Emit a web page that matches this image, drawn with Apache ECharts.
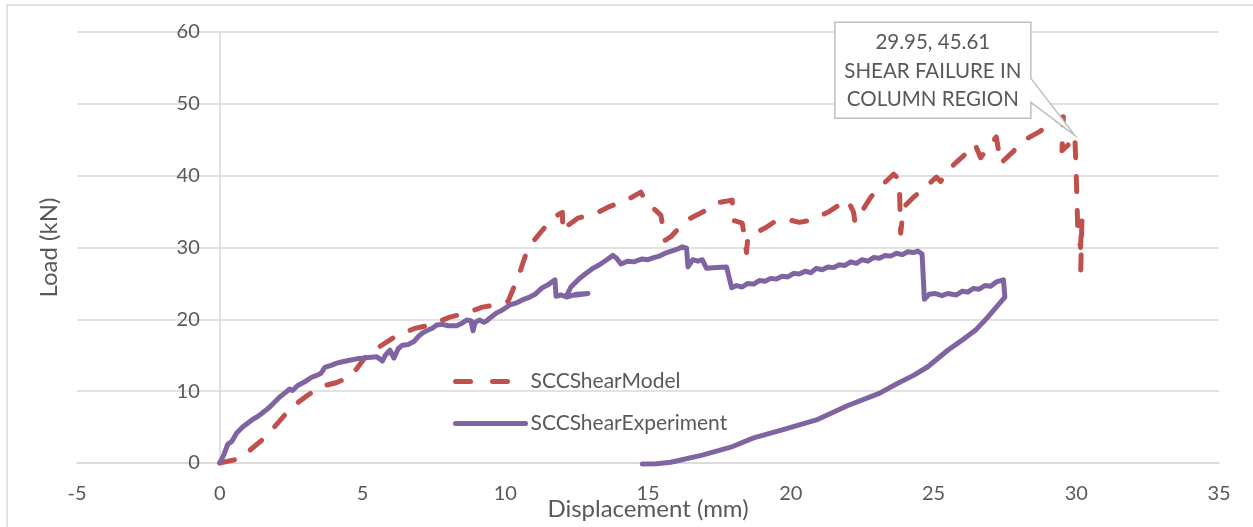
<!DOCTYPE html>
<html>
<head>
<meta charset="utf-8">
<script src="https://cdn.jsdelivr.net/npm/echarts@6/dist/echarts.min.js"></script>
<style>
  html, body { margin: 0; padding: 0; background: #fff; }
  #chart { width: 1253px; height: 527px; }
</style>
</head>
<body>
<div id="chart"></div>
<script>
// displacement (mm), load (kN)
const modelPoints = [
  [0, 0], [0.7, 0.6], [1.6, 3.6], [2.5, 7.7], [3.0, 9.2], [3.5, 10.6], [4.1, 11.2], [4.6, 12.1],
  [5.15, 15.0], [5.6, 16.2], [6.1, 17.5], [6.8, 18.7], [7.35, 19.2], [8.06, 20.3], [8.65, 20.9],
  [9.2, 21.7], [9.8, 22.1], [10.1, 22.5], [10.5, 26.4], [10.75, 29.4], [10.97, 30.8], [11.3, 32.4],
  [11.7, 34.2], [12.0, 34.9], [12.02, 32.2], [12.2, 33.1], [12.55, 34.1], [13.2, 34.8], [13.65, 35.7],
  [14.3, 36.7], [14.75, 37.7], [14.95, 36.2], [15.2, 35.4], [15.45, 34.5], [15.6, 31.0], [15.8, 31.5],
  [16.35, 33.8], [16.9, 34.9], [17.4, 36.2], [17.95, 36.6], [17.97, 33.8], [18.3, 33.4], [18.4, 31.0],
  [18.45, 29.3], [18.5, 31.5], [19.1, 32.7], [19.4, 33.5], [19.9, 33.9], [20.3, 33.5], [20.7, 33.8],
  [21.3, 34.9], [21.8, 36.2], [22.0, 36.6], [22.2, 34.9], [22.25, 33.5], [22.8, 37.0], [23.2, 38.7],
  [23.6, 40.2], [23.8, 39.5], [23.85, 32.0], [23.95, 35.6], [24.3, 37.0], [24.6, 38.0], [25.1, 39.8],
  [25.25, 39.2], [25.7, 41.5], [26.2, 43.3], [26.45, 44.4], [26.65, 42.5], [27.2, 45.4], [27.35, 41.7],
  [27.75, 43.2], [28.2, 45.0], [28.7, 46.1], [29.25, 47.5], [29.55, 48.2], [29.5, 43.5], [29.7, 44.2],
  [29.95, 45.61], [30.0, 40.0], [30.05, 33.0], [30.15, 30.0], [30.2, 34.0], [30.15, 25.5]
];

const experimentPoints = [
  [0, 0], [0.15, 1.2], [0.28, 2.6], [0.35, 2.4], [0.42, 3.0], [0.6, 4.2], [0.8, 5.0], [1.0, 5.6],
  [1.16, 6.1], [1.3, 6.4], [1.47, 6.9], [1.6, 7.3], [1.75, 7.8], [1.9, 8.4], [2.1, 9.2], [2.3, 9.8],
  [2.45, 10.3], [2.55, 10.1], [2.73, 10.8], [2.98, 11.3], [3.2, 11.9], [3.4, 12.2], [3.55, 12.5],
  [3.68, 13.3], [3.9, 13.6], [4.1, 13.9], [4.3, 14.1], [4.55, 14.3], [4.8, 14.5], [5.0, 14.6],
  [5.2, 14.7], [5.5, 14.8], [5.7, 14.2], [5.8, 15.0], [5.96, 15.7], [6.1, 14.6], [6.25, 15.9],
  [6.4, 16.4], [6.6, 16.5], [6.8, 16.9], [6.95, 17.6], [7.1, 18.1], [7.3, 18.5], [7.46, 18.8],
  [7.6, 19.2], [7.8, 19.3], [8.0, 19.1], [8.3, 19.1], [8.5, 19.5], [8.65, 19.9], [8.8, 19.8],
  [8.87, 18.4], [8.95, 19.6], [9.1, 19.9], [9.25, 19.6], [9.35, 19.8], [9.5, 20.3], [9.7, 20.9],
  [9.9, 21.3], [10.16, 22.0], [10.4, 22.3], [10.6, 22.7], [10.86, 23.1], [11.05, 23.5], [11.3, 24.4],
  [11.5, 24.8], [11.74, 25.5], [11.78, 23.2], [11.95, 23.4], [12.16, 23.1], [12.5, 23.5], [12.9, 23.6],
  [12.5, 23.4], [12.15, 23.3], [12.3, 24.5], [12.45, 25.1], [12.6, 25.7], [12.8, 26.3], [13.07, 27.1],
  [13.3, 27.6], [13.56, 28.3], [13.77, 28.9], [13.9, 28.5], [14.05, 27.7], [14.3, 28.1], [14.5, 28.0],
  [14.8, 28.4], [15.0, 28.3], [15.2, 28.6], [15.4, 28.8], [15.66, 29.3], [15.9, 29.6], [16.05, 29.8],
  [16.2, 30.1], [16.35, 29.9], [16.4, 27.3], [16.57, 28.3], [16.75, 28.1], [16.9, 28.3], [17.05, 27.1],
  [17.4, 27.2], [17.75, 27.3], [17.93, 24.4], [18.1, 24.7], [18.3, 24.5], [18.5, 25.0], [18.7, 24.9],
  [18.9, 25.4], [19.1, 25.3], [19.3, 25.7], [19.5, 25.6], [19.7, 26.0], [19.9, 25.9], [20.1, 26.4],
  [20.3, 26.3], [20.5, 26.7], [20.7, 26.5], [20.9, 27.1], [21.1, 26.9], [21.3, 27.3], [21.5, 27.2],
  [21.7, 27.6], [21.9, 27.5], [22.1, 28.0], [22.3, 27.8], [22.5, 28.3], [22.7, 28.1], [22.9, 28.6],
  [23.1, 28.5], [23.3, 28.9], [23.5, 28.8], [23.7, 29.2], [23.9, 29.0], [24.1, 29.4], [24.3, 29.3],
  [24.45, 29.5], [24.6, 29.1], [24.68, 22.8], [24.85, 23.5], [25.05, 23.6], [25.3, 23.3], [25.5, 23.6],
  [25.8, 23.4], [26.0, 23.9], [26.2, 23.8], [26.4, 24.3], [26.6, 24.2], [26.8, 24.7], [27.0, 24.6],
  [27.2, 25.2], [27.45, 25.5], [27.5, 23.1], [27.2, 21.7], [26.9, 20.3], [26.5, 18.6], [26.0, 17.1],
  [25.5, 15.7], [24.8, 13.4], [24.3, 12.2], [23.7, 11.0], [23.1, 9.7], [22.0, 8.0], [20.9, 6.0],
  [19.7, 4.6], [18.7, 3.5], [17.9, 2.2], [16.9, 1.1], [15.8, 0.1], [15.3, -0.1], [14.8, -0.15]
];

const seriesNames = ['SCCShearModel', 'SCCShearExperiment'];
const failurePoint = [29.95, 45.61];
const failureNote = ['29.95, 45.61', 'SHEAR FAILURE IN', 'COLUMN REGION'];

const FONT = 'Lato, "Open Sans", sans-serif';
const TEXT = '#595959';
const GRID = '#d9d9d9';
const RED = '#c0504d';
const PURPLE = '#8064a2';
const DASH = [15, 19];

const chart = echarts.init(document.getElementById('chart'));

chart.setOption({
  backgroundColor: '#fff',
  animation: false,
  grid: { left: 77, right: 34, top: 32, bottom: 64, outerBoundsMode: 'none', containLabel: false },
  legend: {
    orient: 'vertical',
    left: 448,
    top: 366,
    itemWidth: 70,
    itemHeight: 20,
    itemGap: 21,
    itemStyle: { color: 'transparent', borderWidth: 0, opacity: 0 },
    textStyle: { color: TEXT, fontSize: 21, fontFamily: FONT },
    data: [
      { name: seriesNames[0], lineStyle: { color: RED, width: 5, type: [15, 22], cap: 'round' } },
      { name: seriesNames[1], lineStyle: { color: PURPLE, width: 5, type: 'solid', cap: 'round' } }
    ]
  },
  xAxis: {
    type: 'value',
    min: -5,
    max: 35,
    interval: 5,
    name: 'Displacement (mm)',
    nameLocation: 'middle',
    nameGap: 34,
    nameMoveOverlap: false,
    nameTextStyle: { color: TEXT, fontSize: 24, fontFamily: FONT },
    axisLine: { onZero: true, lineStyle: { color: GRID, width: 1.5 } },
    axisTick: { show: false },
    axisLabel: { color: TEXT, fontSize: 20, fontFamily: FONT, margin: 21 },
    splitLine: { show: false }
  },
  yAxis: {
    type: 'value',
    min: 0,
    max: 60,
    interval: 10,
    name: 'Load (kN)',
    nameLocation: 'middle',
    nameGap: 158,
    nameMoveOverlap: false,
    nameTextStyle: { color: TEXT, fontSize: 24, fontFamily: FONT },
    axisLine: { show: true, onZero: false, lineStyle: { color: GRID, width: 1.5 } },
    axisTick: { show: false },
    axisLabel: { color: TEXT, fontSize: 20, fontFamily: FONT, margin: 20 },
    splitLine: { lineStyle: { color: GRID, width: 1.5 } }
  },
  series: [
    {
      name: seriesNames[0],
      type: 'line',
      data: modelPoints,
      symbol: 'none',
      clip: false,
      z: 2,
      lineStyle: { color: RED, width: 5, type: DASH, cap: 'round', join: 'round' },
      itemStyle: { color: RED }
    },
    {
      name: seriesNames[1],
      type: 'line',
      data: experimentPoints,
      symbol: 'none',
      clip: false,
      z: 3,
      lineStyle: { color: PURPLE, width: 5, cap: 'round', join: 'round' },
      itemStyle: { color: PURPLE }
    }
  ]
});

// the value axis crosses at displacement 0, like the original
const zeroX = chart.convertToPixel({ xAxisIndex: 0 }, 0);
chart.setOption({ yAxis: { offset: -(zeroX - 77) } });

// callout for the failure point, placed from the data point
const p = chart.convertToPixel({ xAxisIndex: 0, yAxisIndex: 0 }, failurePoint);
const L = p[0] - 240, T = p[1] - 113, W = 196, H = 96;
chart.setOption({
  graphic: [
    {
      type: 'rect',
      silent: true,
      z: -10,
      shape: { x: 7, y: 5, width: 1300, height: 600 },
      style: { fill: 'none', stroke: GRID, lineWidth: 1.5 }
    },
    {
      type: 'polygon',
      silent: true,
      z: 100,
      shape: {
        points: [
          [L, T], [L + W, T], [L + W, T + 56], [p[0], p[1]],
          [L + W, T + 80], [L + W, T + H], [L, T + H]
        ]
      },
      style: { fill: '#fff', stroke: '#bfbfbf', lineWidth: 1.5 }
    },
    {
      type: 'text',
      silent: true,
      z: 101,
      x: L + W / 2,
      y: T + H / 2 + 1,
      style: {
        text: failureNote.join('\n'),
        fill: TEXT,
        font: '20.5px ' + FONT,
        lineHeight: 28.5,
        align: 'center',
        verticalAlign: 'middle'
      }
    }
  ]
});
</script>
</body>
</html>
